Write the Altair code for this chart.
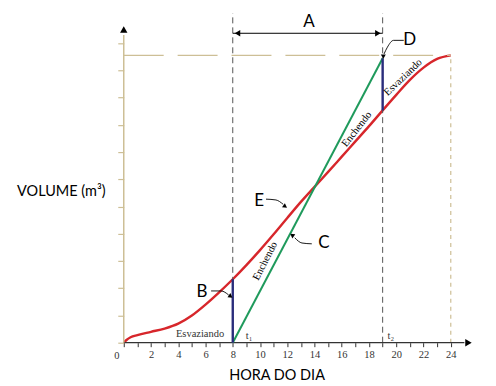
import altair as alt
import pandas as pd

# ---- data ----
red_t = [0, 0.2, 0.5, 1, 2, 3, 4, 5, 6, 7, 8, 9, 10, 11, 12, 13, 14, 15, 16, 17, 18, 19, 20, 21, 22, 23, 24]
red_v = [0, 0.1, 0.2, 0.28, 0.4, 0.52, 0.7, 1.0, 1.4, 1.85, 2.33, 2.85, 3.4, 3.98, 4.58, 5.17, 5.72, 6.27, 6.83, 7.39, 7.95, 8.53, 9.1, 9.65, 10.1, 10.42, 10.55]
green_t = [8, 19]
green_v = [0, 10.44]
t1, t2 = 8, 19
vmax = 10.55
x_ticks = list(range(0, 25))
y_ticks = list(range(0, 12))

RED = "#d7262b"
GREEN = "#1f9a5c"
BLUE = "#2a2d7c"
TAN = "#cdbf96"
DARK = "#333333"
SERIF = "Liberation Serif"
SANS = "Lato"

xs = alt.Scale(domain=[0, 26], nice=False, zero=False)
ys = alt.Scale(domain=[0, 12.2], nice=False, zero=False)
x_axis = alt.Axis(
    values=x_ticks, labelExpr="datum.value % 2 == 0 && datum.value > 0 ? datum.label : ''",
    domain=False, grid=False, tickColor=DARK, tickSize=4, labelFont=SERIF, labelFontSize=10.5,
    labelColor=DARK, labelPadding=3, labelOverlap=False, labelFlush=False, title=None)
y_axis = alt.Axis(
    values=y_ticks, labels=False, domain=False, grid=False, tickColor=TAN, tickSize=6,
    tickWidth=1.2, title=None)


def X(f="t"):
    return alt.X(f"{f}:Q", scale=xs, axis=x_axis)


def Y(f="v"):
    return alt.Y(f"{f}:Q", scale=ys, axis=y_axis)


red_df = pd.DataFrame({"t": red_t, "v": red_v})
green_df = pd.DataFrame({"t": green_t, "v": green_v})

red = alt.Chart(red_df).mark_line(color=RED, strokeWidth=2.4, interpolate="monotone").encode(x=X(), y=Y())
green = alt.Chart(green_df).mark_line(color=GREEN, strokeWidth=2).encode(x=X(), y=Y())


def seg(rows, **mk):
    df = pd.DataFrame(rows, columns=["t", "v", "t2", "v2"])
    return alt.Chart(df).mark_rule(**mk).encode(x=X(), y=Y(), x2="t2:Q", y2="v2:Q")

top_dash = seg([(0, vmax, 24, vmax)], color=TAN, strokeWidth=1.2, strokeDash=[40, 14])
vdash = seg([(t1, 0, t1, 12.1), (t2, 0, t2, 12.1)], color="#555555", strokeWidth=1, strokeDash=[6, 4])
v24 = seg([(24, 0, 24, vmax)], color=TAN, strokeWidth=1.2, strokeDash=[4, 4])
blue = seg([(t1, 0, t1, red_v[10]), (t2, red_v[21], t2, green_v[1])], color=BLUE, strokeWidth=2.4)
xaxis = seg([(0, 0, 25, 0)], color=DARK, strokeWidth=1.2)
yaxis = seg([(0, 0, 0, 11.3)], color=TAN, strokeWidth=1.5)
a_arrow = seg([(t1, 11.36, t2, 11.36)], color="black", strokeWidth=1)


def heads(rows, size=35):
    df = pd.DataFrame(rows, columns=["t", "v", "shape", "ang"])
    return alt.Chart(df).mark_point(filled=True, color="black", opacity=1, size=size).encode(
        x=X(), y=Y(), shape=alt.Shape("shape:N", scale=None), angle=alt.Angle("ang:Q", scale=None))

axis_heads = heads([(25.3, 0, "triangle-right", 0), (0, 11.5, "triangle-up", 0)], size=55)
a_heads = heads([(8.35, 11.36, "triangle-left", 0), (18.65, 11.36, "triangle-right", 0)], size=40)
lead_heads = heads([
    (7.85, 1.7, "triangle-right", 35),
    (11.85, 5.0, "triangle-right", 35),
    (12.35, 3.95, "triangle-left", 35),
    (19.05, 10.5, "triangle-down", 0),
], size=25)

lead_df = pd.DataFrame({
    "g": ["B"] * 3 + ["E"] * 3 + ["C"] * 3 + ["D"] * 4,
    "o": [0, 1, 2] * 3 + [0, 1, 2, 3],
    "t": [6.41, 7.14, 7.7, 10.44, 11.17, 11.7, 13.8, 13.08, 12.55, 20.55, 19.8, 19.35, 19.1],
    "v": [1.9, 1.9, 1.75, 5.27, 5.24, 5.08, 3.63, 3.66, 3.85, 11.1, 11.1, 10.85, 10.6],
})
leads = alt.Chart(lead_df).mark_line(color="black", strokeWidth=0.9, interpolate="monotone").encode(
    x=X(), y=Y(), detail="g:N", order="o:Q")


def texts(rows, font, size, color="black", angle=0, **mk):
    df = pd.DataFrame(rows, columns=["t", "v", "txt"])
    return alt.Chart(df).mark_text(font=font, fontSize=size, color=color, angle=angle, **mk).encode(
        x=X(), y=Y(), text="txt:N")

letters = texts([(13.6, 11.76, "A"), (5.75, 1.87, "B"), (14.69, 3.66, "C"),
                 (20.99, 11.1, "D"), (9.93, 5.2, "E")], SANS, 17)
titles = [
    texts([(-4.58, 5.53, "VOLUME (m³)")], SANS, 14.5),
    texts([(11.25, -1.22, "HORA DO DIA")], SANS, 14.5),
]
small = texts([(5.6, 0.33, "Esvaziando"), (9.2, 0.26, "t₁"), (19.6, 0.26, "t₂"), (-0.5, -0.5, "0")],
              SERIF, 10.5, color=DARK)
rot1 = texts([(10.38, 3.0, "Enchendo")], SERIF, 10.5, angle=297.5)
rot2 = texts([(17.1, 7.84, "Enchendo")], SERIF, 10.5, angle=308)
rot3 = texts([(20.5, 9.74, "Esvaziando")], SERIF, 10.5, angle=316)

chart = alt.layer(
    red, top_dash, vdash, v24, xaxis, yaxis, axis_heads, green, blue, a_arrow, a_heads,
    leads, lead_heads, letters, *titles, small, rot1, rot2, rot3,
).properties(
    width=355, height=333,
    padding={"left": 116, "top": 2, "right": 10, "bottom": 43},
    autosize=alt.AutoSizeParams(type="none"),
    background="white",
).configure_view(stroke=None)

chart.save("out.html", embed_options={"renderer": "svg", "actions": False})
